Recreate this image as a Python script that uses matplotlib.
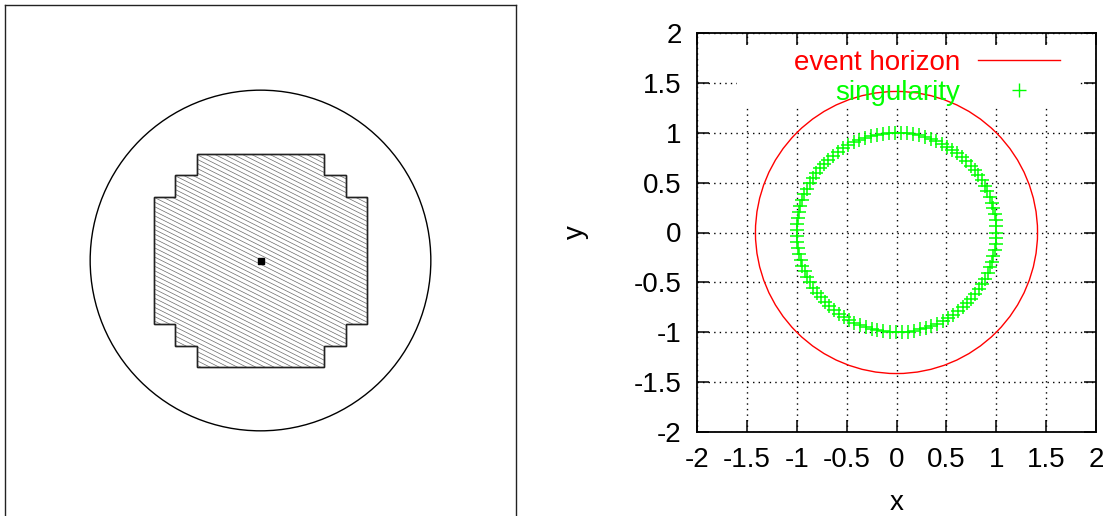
import numpy as np
import matplotlib
matplotlib.use("Agg")
import matplotlib.pyplot as plt
from matplotlib.patches import Circle, Polygon, Rectangle
from matplotlib.lines import Line2D

plt.rcParams['font.family'] = ['Liberation Sans', 'DejaVu Sans']

# ---------------- data ----------------
# left panel (grid-cell units)
box_half = 12
outer_circle_r = 8
region_x = [-3, 3, 3, 4, 4, 5, 5, 4, 4, 3, 3, -3, -3, -4, -4, -5, -5, -4, -4, -3]
region_y = [5, 5, 4, 4, 3, 3, -3, -3, -4, -4, -5, -5, -4, -4, -3, -3, 3, 3, 4, 4]
center_x = [0]
center_y = [0]

# right panel
ticks = [-2, -1.5, -1, -0.5, 0, 0.5, 1, 1.5, 2]
tick_labels = ['-2', '-1.5', '-1', '-0.5', '0', '0.5', '1', '1.5', '2']
horizon_radius = 1.414
singularity_radius = 1.0
singularity_angles_deg = [
    0, 3.5, 7, 10.5, 14, 17.5, 21, 24.5, 28, 31.5, 35, 38.5, 42, 45.5, 49,
    52.5, 56, 59.5, 63, 66.5, 70, 73.5, 77, 80.5, 84, 87.5, 91, 94.5, 98,
    101.5, 105, 108.5, 112, 115.5, 119, 122.5, 126, 129.5, 133, 136.5, 140,
    143.5, 147, 150.5, 154, 157.5, 161, 164.5, 168, 171.5, 175, 178.5, 182,
    185.5, 189, 192.5, 196, 199.5, 203, 206.5, 210, 213.5, 217, 220.5, 224,
    227.5, 231, 234.5, 238, 241.5, 245, 248.5, 252, 255.5, 259, 262.5, 266,
    269.5, 273, 276.5, 280, 283.5, 287, 290.5, 294, 297.5, 301, 304.5, 308,
    311.5, 315, 318.5, 322, 325.5, 329, 332.5, 336, 339.5, 343, 346.5, 350,
    353.5, 357]

W, H = 1104, 516
fig = plt.figure(figsize=(W / 100, H / 100), dpi=100)

# ---------------- left panel ----------------
axl = fig.add_axes([5 / W, 0 / H, 511 / W, 511 / H])
axl.set_xlim(-box_half, box_half)
axl.set_ylim(-box_half, box_half)
axl.set_xticks([])
axl.set_yticks([])
for s in ['left', 'right', 'top']:
    axl.spines[s].set_linewidth(1.0)
    axl.spines[s].set_color('#222222')
axl.spines['bottom'].set_visible(False)

axl.add_patch(Circle((0, 0), outer_circle_r, fill=False, ec='black', lw=1.0))
poly = Polygon(np.column_stack([region_x, region_y]), closed=True,
               fc='white', ec='#222222', lw=1.0, zorder=2)
axl.add_patch(poly)
# shallow diagonal hatching, clipped to the region
slope = -0.5
for c in np.arange(-12, 12, 0.215):
    xs = np.array([-6, 6])
    ln, = axl.plot(xs, slope * xs + c, color='#6a6a6a', lw=0.5, zorder=2.5)
    ln.set_clip_path(poly)
axl.add_patch(Polygon(np.column_stack([region_x, region_y]), closed=True,
                      fill=False, ec='#222222', lw=1.0, zorder=3))
axl.plot(center_x, center_y, 's', color='black', ms=4, zorder=4)

# ---------------- right panel ----------------
fs = 20
axr = fig.add_axes([697 / W, 1 - 432 / H, 399 / W, 399 / H])
axr.set_xlim(-2, 2)
axr.set_ylim(-2, 2)
axr.set_axisbelow(True)
axr.set_xticks(ticks)
axr.set_yticks(ticks)
axr.set_xticklabels(tick_labels)
axr.set_yticklabels(tick_labels)
axr.tick_params(direction='in', length=8.6, width=1.1, top=True, right=True,
                labelsize=fs, pad=11)
axr.grid(True, color='black', linestyle=(0, (1, 3)), lw=1.0)
for s in axr.spines.values():
    s.set_linewidth(1.3)
axr.set_xlabel('x', fontsize=fs, labelpad=12)
axr.set_ylabel('y', fontsize=fs, labelpad=32, rotation=90)

# key background (white box like gnuplot key)
axr.add_patch(Rectangle((0.1, 0.8145), 0.855, 0.1555, transform=axr.transAxes,
                        fc='white', ec='none', zorder=1))

axr.add_patch(Circle((0, 0), horizon_radius, fill=False, ec='red', lw=1.0,
                     zorder=2))
ang = np.deg2rad(singularity_angles_deg)
axr.plot(singularity_radius * np.cos(ang), singularity_radius * np.sin(ang),
         linestyle='none', marker='+', color='#00ff00', ms=10, mew=1.1,
         zorder=3)

handles = [Line2D([], [], color='red', lw=1.0),
           Line2D([], [], linestyle='none', marker='+', color='#00ff00',
                  ms=10, mew=1.0)]
leg = axr.legend(handles, ['event horizon', 'singularity'],
                 loc='upper right', bbox_to_anchor=(0.91, 0.958),
                 frameon=False, markerfirst=False, fontsize=fs,
                 handlelength=2.95, handletextpad=0.65, borderpad=0,
                 borderaxespad=0, labelspacing=0.15)
for t, c in zip(leg.get_texts(), ['red', '#00ff00']):
    t.set_color(c)
    t.set_ha('right')
leg.set_zorder(5)

fig.savefig('out.png', dpi=100)
